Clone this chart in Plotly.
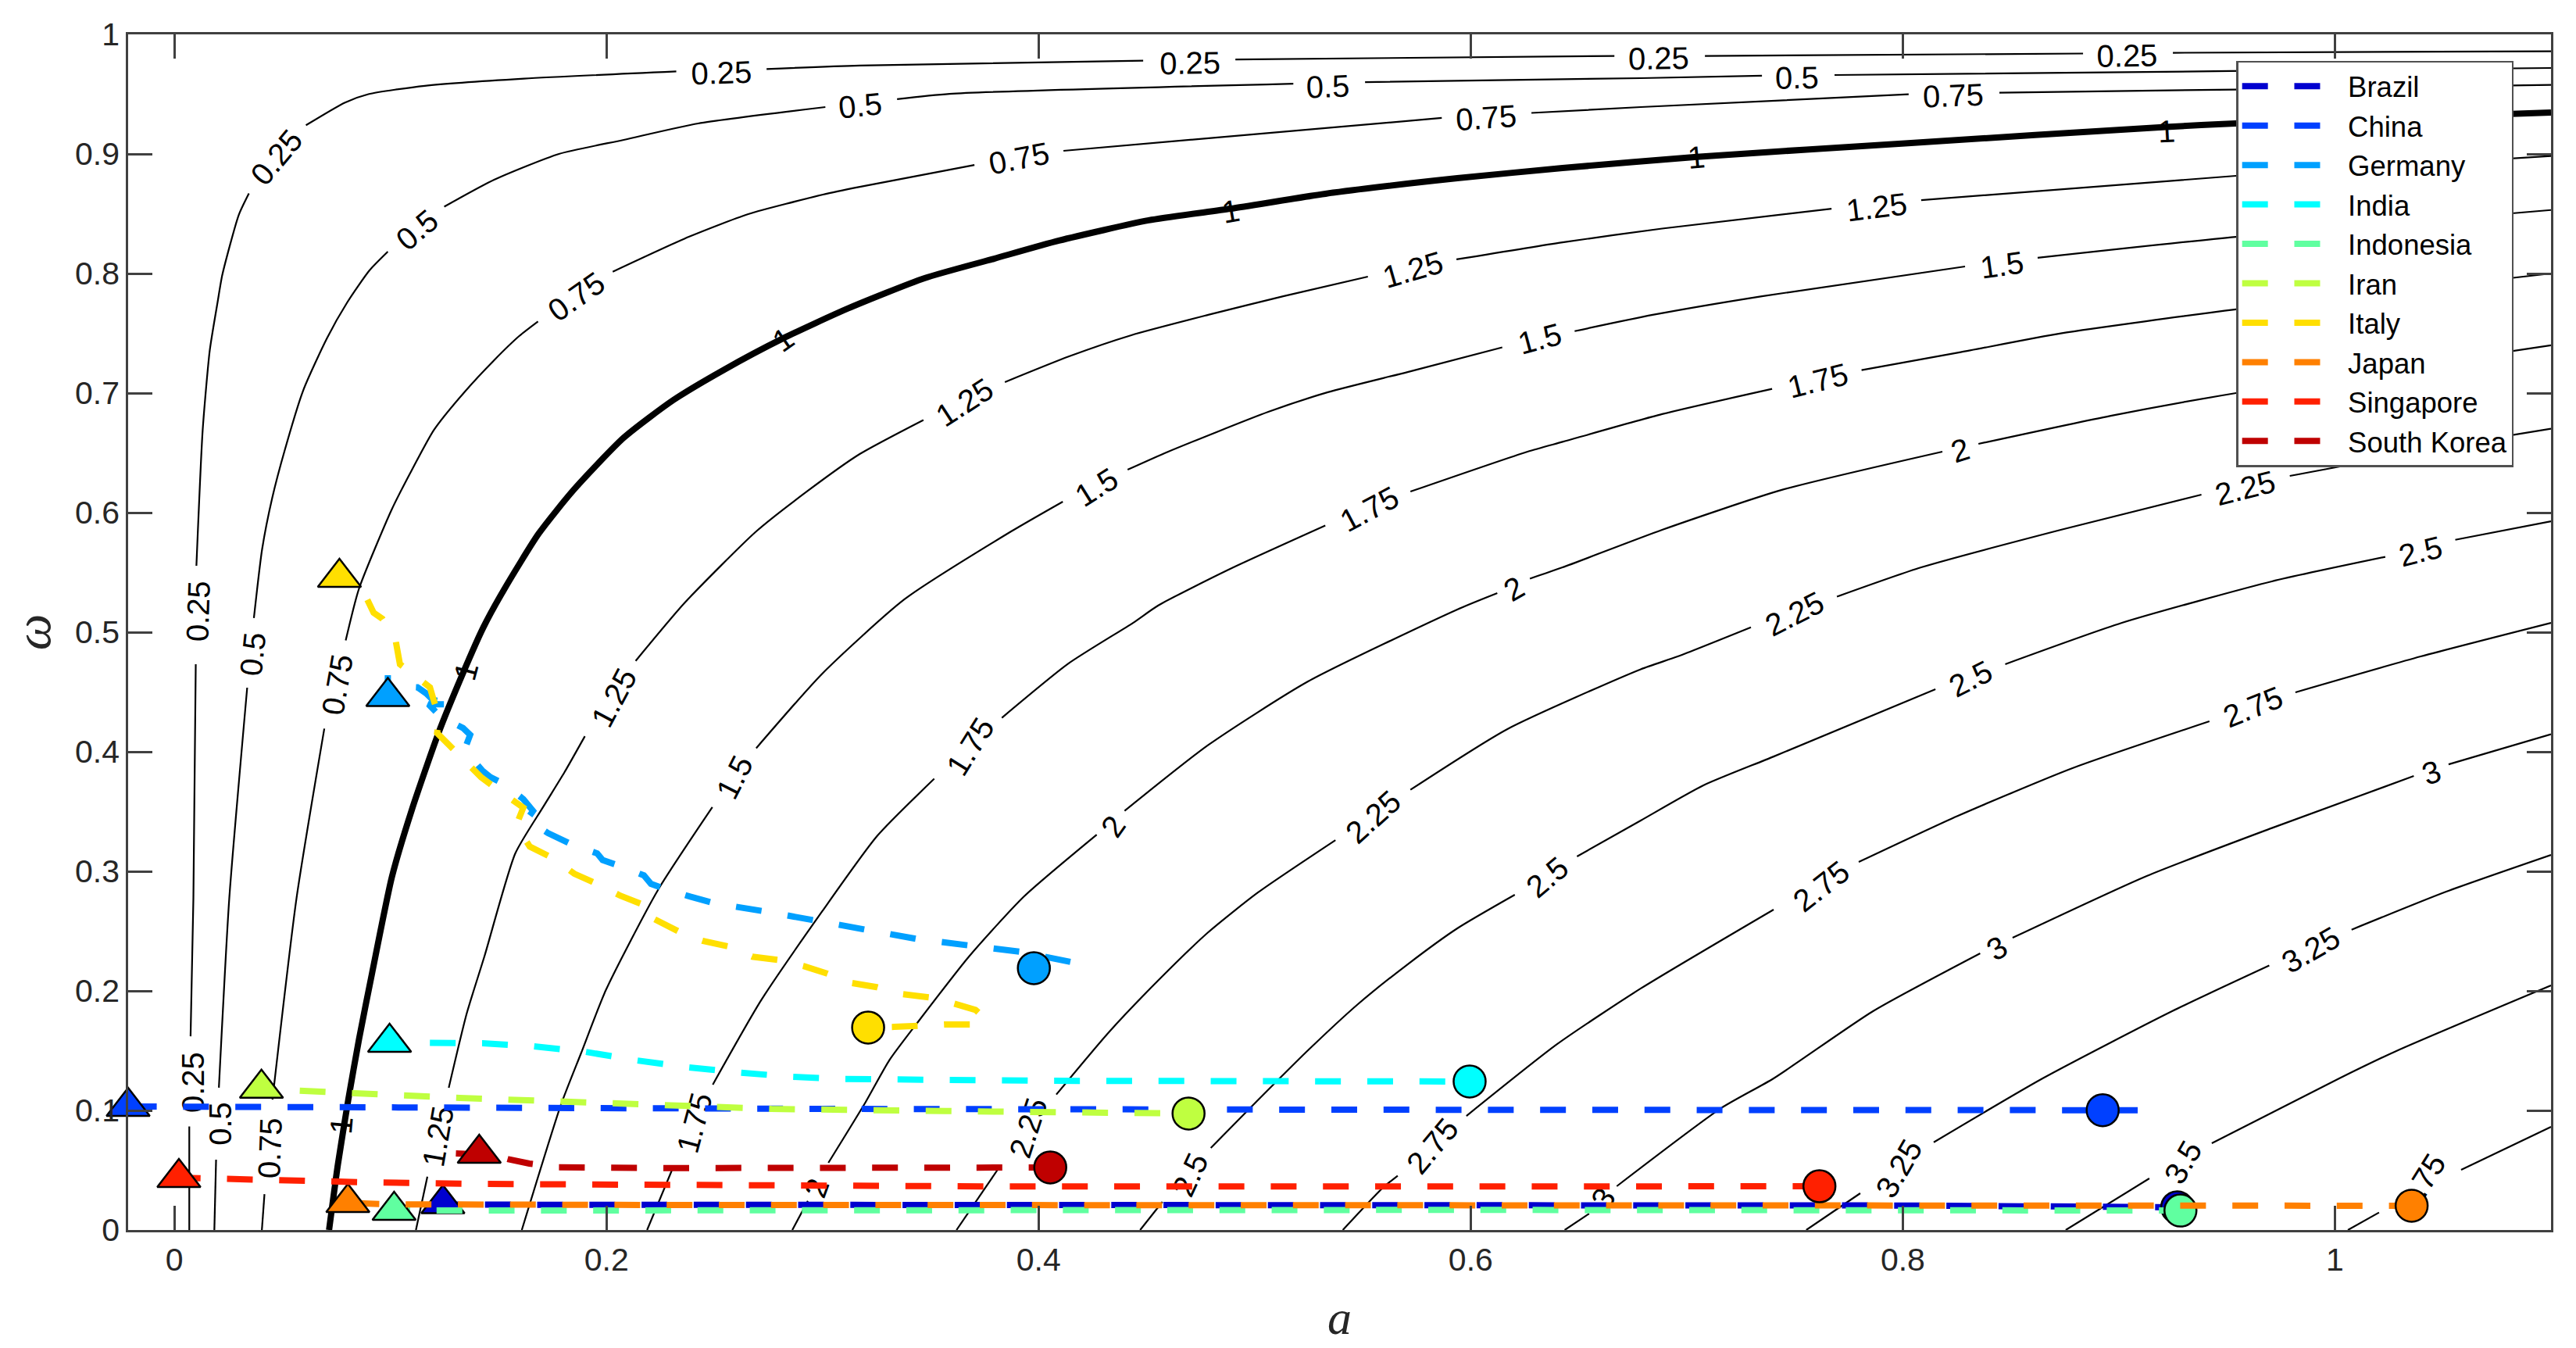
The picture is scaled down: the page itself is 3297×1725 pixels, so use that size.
# -*- coding: utf-8 -*-
import math
import plotly.graph_objects as go

# level curves, None = gap left for a label
c025_x = [0.0069,0.0069,None,0.0075,0.0088,0.0099,None,0.0102,0.0131,0.0164,0.0200,0.0222,0.0298,0.0345,None,0.0609,0.0790,0.0898,0.1159,0.1618,0.2323,None,0.2741,0.3172,0.4484,None,0.4911,0.6665,None,0.7084,0.8834,None,0.925,1.1]
c025_y = [0,0.0866,None,0.162,0.2771,0.4732,None,0.5556,0.669,0.736,0.776,0.799,0.849,0.867,None,0.924,0.943,0.950,0.957,0.963,0.969,None,0.971,0.974,0.978,None,0.979,0.982,None,0.982,0.984,None,0.9846,0.9859]
c05_x = [0.0185,0.0193,None,0.0206,0.0254,0.0337,None,0.0368,0.0406,0.0453,0.0511,0.0597,0.0706,0.0800,0.0903,0.0988,None,0.1249,0.1480,0.178,0.2080,0.2424,0.3013,None,0.3345,0.3588,0.5179,None,0.5511,0.6787,0.7348,None,0.7684,0.9517,1.1]
c05_y = [0,0.0588,None,0.1190,0.2771,0.4536,None,0.5118,0.5693,0.6124,0.6523,0.7026,0.7458,0.7758,0.8026,0.8183,None,0.8559,0.8784,0.900,0.9118,0.9255,0.9392,None,0.9458,0.9503,0.9588,None,0.9601,0.9634,0.9654,None,0.966,0.9693,0.9719]
c075_x = [0.0405,0.0417,None,0.0454,0.0565,0.0694,None,0.0793,0.0854,0.1006,0.11,0.1202,0.1342,0.1480,0.1596,0.1683,None,0.2029,0.2381,0.2656,0.3002,0.3172,0.3703,None,0.4115,0.5866,None,0.6281,0.6787,0.8027,None,0.8447,0.9538,1.1]
c075_y = [0,0.030,None,0.1091,0.2771,0.4194,None,0.4931,0.5361,0.6026,0.6359,0.6693,0.7007,0.7275,0.7477,0.7599,None,0.8015,0.8307,0.8497,0.8660,0.8725,0.8908,None,0.9026,0.9301,None,0.9343,0.9392,0.9499,None,0.9512,0.9539,0.9577]
c1_x = [0.0716,0.0757,0.0805,0.0855,0.0916,0.1007,0.1100,0.1221,0.1335,0.1430,0.1527,0.1686,0.1848,0.2080,0.2309,0.2539,0.2818,0.3118,0.3472,0.3794,0.4094,0.4510,0.4889,0.5363,0.5938,0.6425,0.7047,0.8038,0.9217,0.9538,1.1]
c1_y = [0,0.055,0.1091,0.16,0.2157,0.2954,0.3520,0.4150,0.4654,0.5040,0.536,0.5824,0.619,0.6627,0.6941,0.7190,0.7458,0.7708,0.7961,0.8124,0.8275,0.8445,0.8542,0.8676,0.8797,0.8882,0.8976,0.9092,0.9226,0.9255,0.9347]
c125_x = [0.1118,0.1171,None,0.127,0.1353,0.1436,0.1578,0.1704,0.1806,0.19,None,0.2135,0.2363,0.2693,0.2930,0.3172,0.3467,None,0.3844,0.4141,0.4429,0.4785,0.5132,0.5524,None,0.5934,0.6425,0.6886,0.767,None,0.8085,0.9542,1.1]
c125_y = [0,0.0446,None,0.119,0.181,0.2294,0.315,0.353,0.383,0.413,None,0.476,0.5248,0.5843,0.618,0.649,0.6775,None,0.7092,0.7307,0.7484,0.7654,0.781,0.7974,None,0.8118,0.8261,0.8376,0.8542,None,0.8614,0.8817,0.8983]
c15_x = [0.1608,0.1789,0.1882,0.1997,0.2236,0.249,None,0.2693,0.2999,0.3379,0.3873,0.4112,None,0.4412,0.4600,0.5063,0.5339,0.5708,0.6146,None,0.6481,0.6842,0.7348,0.8288,None,0.8624,0.9542,1.1]
c15_y = [0,0.1046,0.1477,0.2006,0.2837,0.3536,None,0.403,0.4654,0.5275,0.5843,0.6092,None,0.6359,0.651,0.6843,0.7007,0.7176,0.7382,None,0.7518,0.7654,0.781,0.8059,None,0.8131,0.8307,0.8531]
c175_x = [0.2188,0.2302,None,0.2492,0.2716,0.2999,0.3252,0.3517,None,0.3830,0.4139,0.4437,0.4554,0.4879,0.5327,None,0.5721,0.6263,0.6425,0.6886,0.7395,None,0.7809,0.8268,0.8731,0.9542,1.1]
c175_y = [0,0.0497,None,0.1216,0.1922,0.2667,0.3294,0.3774,None,0.4284,0.4739,0.5078,0.5224,0.5523,0.5892,None,0.6176,0.651,0.6592,0.6824,0.7035,None,0.7192,0.7342,0.7499,0.77,0.80]
c2_x = [0.286,0.2932,None,0.3027,0.32,0.3310,0.3448,0.3678,0.3933,0.4269,None,0.4398,0.4785,0.5247,0.5938,0.6123,None,0.6274,0.6425,0.6886,0.744,0.8183,None,0.835,0.8962,0.9542,1.1]
c2_y = [0,0.0244,None,0.0562,0.1072,0.1422,0.1755,0.2288,0.2791,0.3307,None,0.3506,0.4056,0.4588,0.5190,0.5327,None,0.5448,0.5542,0.5856,0.6190,0.651,None,0.6575,0.681,0.70,0.74]
c225_x = [0.362,0.3823,None,0.4082,0.4325,0.4554,0.4785,0.5016,0.5374,None,0.5721,0.6170,0.6787,0.6958,0.7297,None,0.7695,0.8085,0.8731,0.9382,None,0.9791,1.0042,1.0237,1.1]
c225_y = [0,0.0538,None,0.1133,0.1654,0.2088,0.249,0.2824,0.3261,None,0.3682,0.419,0.4690,0.4797,0.5041,None,0.5297,0.5542,0.5856,0.615,None,0.6307,0.6392,0.6471,0.6702]
c25_x = [0.447,0.4573,None,0.4797,0.5016,0.5247,0.5478,0.5708,0.5938,0.6204,None,0.6492,0.6787,0.7077,0.7402,0.8151,None,0.8474,0.9014,0.9708,1.0233,None,1.0557,1.1]
c25_y = [0,0.0235,None,0.0686,0.1088,0.1503,0.1889,0.2222,0.2523,0.2804,None,0.3124,0.3425,0.3719,0.396,0.4523,None,0.4732,0.5078,0.5425,0.563,None,0.5773,0.5928]
c275_x = [0.5408,0.5593,0.5662,None,0.598,0.6401,0.6787,0.7402,None,0.7796,0.8255,0.8785,0.9419,None,0.9817,1.0397,1.1]
c275_y = [0,0.0353,0.0454,None,0.0954,0.1556,0.2020,0.2680,None,0.3078,0.3464,0.3863,0.4255,None,0.4497,0.4797,0.5078]
c3_x = [0.6435,0.6548,None,0.6676,0.716,0.7402,0.7862,0.8358,None,0.8508,0.9129,0.9708,1.0365,None,1.0526,1.1]
c3_y = [0,0.0137,None,0.0366,0.102,0.1268,0.183,0.2314,None,0.2444,0.2961,0.3362,0.3797,None,0.3895,0.4146]
c325_x = [0.7553,0.7803,None,0.8143,0.8647,0.9246,0.9696,None,1.0077,1.0515,1.1]
c325_y = [0,0.0307,None,0.0734,0.1268,0.183,0.2212,None,0.2512,0.283,0.3137]
c35_x = [0.8754,0.9141,None,0.943,1.002,1.0284,1.1]
c35_y = [0,0.0431,None,0.0725,0.1268,0.1497,0.2046]
c375_x = [1.006,1.0204,None,1.0584,1.1]
c375_y = [0,0.0146,None,0.0503,0.0863]

thin_curves = [(c025_x,c025_y),(c05_x,c05_y),(c075_x,c075_y),(c125_x,c125_y),(c15_x,c15_y),(c175_x,c175_y),
               (c2_x,c2_y),(c225_x,c225_y),(c25_x,c25_y),(c275_x,c275_y),(c3_x,c3_y),(c325_x,c325_y),(c35_x,c35_y),(c375_x,c375_y)]

# contour labels
lab_text = ['0.25']*7 + ['0.5']*6 + ['0.75']*6 + ['1']*6 + ['1.25']*5 + ['1.5']*4 + ['1.75']*4 + ['2']*4 + ['2.25']*4 + ['2.5']*4 + ['2.75']*3 + ['3']*3 + ['3.25']*2 + ['3.5','3.75']
lab_x = [.0108,.0083,.0471,.2532,.4701,.687,.9038, .0211,.0361,.1122,.3174,.5339,.751, .044,.0752,.1859,.3909,.6071,.8233,
         .0771,.1348,.2817,.4889,.7044,.922, .1218,.2033,.3656,.5732,.7879, .2591,.4267,.6319,.8459, .2405,.3682,.5530,.7606,
         .2971,.4343,.6199,.8265, .395,.5547,.7498,.9584, .47,.6353,.8313,1.0396, .5821,.7621,.962, .6612,.8434,1.0446, .798,.9887, .9295, 1.04]
lab_y = [.5176,.1235,.8974,.9683,.9765,.9804,.9826, .0889,.4817,.8368,.9409,.9569,.9642, .0686,.4562,.781,.8967,.9307,.9493,
         .0876,.4675,.7451,.8525,.8976,.9193, .0784,.4454,.6925,.8036,.8559, .3788,.6216,.7458,.8075, .0897,.4046,.6034,.7108,
         .0353,.3379,.5367,.6525, .0856,.3458,.5157,.6209, .0464,.2954,.4614,.568, .0706,.2878,.4379, .0268,.2361,.383, .0516,.2346, .0569, .0399]
lab_ang = [-88,-90,-50,-2,-1,-1,-1, -90,-84,-40,-6,-2,-1, -88,-80,-35,-11,-4,-2,
           -85,-75,-35,-10,-5,-3, -80,-62,-33,-16,-7, -63,-32,-15,-8, -75,-58,-28,-14,
           -70,-55,-30,-17, -72,-42,-27,-14, -65,-40,-27,-14, -50,-38,-22, -55,-32,-20, -60,-30, -60,-58]

# countries
names = ['Brazil','China','Germany','India','Indonesia','Iran','Italy','Japan','Singapore','South Korea']
colors = ['#0000CF','#0040FF','#00A0FF','#00FFFF','#60FFA0','#BFFF40','#FFDF00','#FF8000','#FF2000','#BF0000']

tri_x = [.1243,-.0214,.0988,.0996,.1017,.0403,.0764,.0803,.0021,.1411]
tri_y = [.0219,.1033,.4461,.1569,.0163,.1185,.5458,.0229,.0438,.064]
cir_x = [.927,.8925,.3978,.5995,.9285,.4694,.3211,1.0355,.7614,.4054]
cir_y = [.019,.1002,.219,.1242,.0163,.0974,.1693,.0203,.0366,.0523]

brazil_x = [.1196,.2,.4,.6,.8,.927]
brazil_y = [.0212,.0212,.0205,.0205,.0205,.019]
china_x = [-.0201,.1,.3,.6,.8925,.9087]
china_y = [.1033,.1022,.1013,.1005,.1002,.1002]
germany_x = [.0988,.0988,.1069,.1125,.1166,.1196,.1292,.1176,.1234,.1336,.1369,.1343,.1424,.1462,.1526,.1615,.1660,.1632,.1729,.1843,.1957,.1982,.2064,.2173,.2206,.2269,.2388,.2503,.2739,.2977,.3205,.3441,.3682,.3911,.4159,.4101,.3978]
germany_y = [.4640,.4461,.4545,.4539,.4488,.4434,.4397,.4397,.429,.4199,.4142,.4015,.3845,.3788,.3731,.3604,.3505,.3434,.332,.3221,.315,.3094,.3043,.2966,.2895,.2853,.2788,.2731,.2663,.2584,.2499,.2433,.2379,.2328,.2238,.2187,.219]
india_x = [.0941,.1183,.1426,.1665,.1903,.2142,.2381,.262,.2861,.3103,.3338,.4032,.5995]
india_y = [.1569,.1565,.1562,.1536,.149,.1418,.136,.1316,.1281,.1263,.1257,.1248,.1242]
indonesia_x = [.0972,.3,.6,.9285]
indonesia_y = [.0163,.0168,.0168,.0163]
iran_x = [.0339,.0482,.0834,.132,.1798,.2286,.2763,.3569,.4446,.4694]
iran_y = [.1185,.117,.1144,.1105,.1072,.1039,.1013,.0995,.098,.0974]
italy_x = [.0764,.0764,.0892,.0922,.0963,.1023,.1044,.1140,.1183,.1201,.1226,.1216,.1247,.1336,.1419,.1513,.1615,.1582,.1645,.1754,.1851,.1962,.2064,.2165,.2155,.2224,.2343,.2363,.2444,.2566,.2675,.28,.2914,.3023,.3129,.3251,.3365,.3492,.3601,.3708,.3753,.3708,.3571,.3454,.3332,.3211]
italy_y = [.5595,.5458,.5276,.5163,.5112,.4942,.4732,.4596,.4539,.4426,.429,.4157,.41,.3938,.3788,.3661,.3533,.3383,.3207,.3108,.2980,.289,.2796,.2725,.2663,.2598,.2498,.247,.2419,.2371,.2286,.2258,.2207,.2144,.2068,.2031,.1974,.1946,.1898,.1841,.1767,.1719,.1719,.1705,.1699,.1693]
japan_x = [.0829,.1,.2,.6,1.0355]
japan_y = [.0225,.0215,.021,.0205,.0203]
singapore_x = [.0002,.0418,.0887,.1364,.2308,.3841,.6,.7614]
singapore_y = [.0438,.0418,.0399,.0386,.0373,.0364,.0364,.0366]
korea_x = [.1303,.1478,.155,.1643,.1769,.2059,.2308,.4054]
korea_y = [.064,.0627,.059,.0556,.0525,.0516,.0518,.0523]

series_x = [brazil_x,china_x,germany_x,india_x,indonesia_x,iran_x,italy_x,japan_x,singapore_x,korea_x]
series_y = [brazil_y,china_y,germany_y,india_y,indonesia_y,iran_y,italy_y,japan_y,singapore_y,korea_y]

fig = go.Figure()

for cx, cy in thin_curves:
    fig.add_trace(go.Scatter(x=cx, y=cy, mode='lines', line=dict(color='black', width=2.2, shape='spline', smoothing=0.6),
                             showlegend=False, hoverinfo='skip'))
fig.add_trace(go.Scatter(x=c1_x, y=c1_y, mode='lines', line=dict(color='black', width=8, shape='spline', smoothing=0.6),
                         showlegend=False, hoverinfo='skip'))

for i in range(len(names)):
    fig.add_trace(go.Scatter(x=series_x[i], y=series_y[i], mode='lines', name='\u00a0\u00a0\u00a0' + names[i],
                             line=dict(color=colors[i], width=8, dash='33px,33.8px')))
    fig.add_trace(go.Scatter(x=[tri_x[i]], y=[tri_y[i]], mode='markers', showlegend=False, cliponaxis=False,
                             marker=dict(symbol='triangle-up', size=48, color=colors[i], line=dict(color='black', width=2.5))))
    fig.add_trace(go.Scatter(x=[cir_x[i]], y=[cir_y[i]], mode='markers', showlegend=False, cliponaxis=False,
                             marker=dict(symbol='circle', size=41, color=colors[i], line=dict(color='black', width=2.5))))

# labels as zero length shapes so they stay under the dashed lines and markers
# the shape label sits a bit low, so nudge it along the text's own up direction
for i in range(len(lab_text)):
    a = math.radians(lab_ang[i])
    lx = lab_x[i] + 3.5 * math.sin(a) / 2766
    ly = lab_y[i] + 3.5 * math.cos(a) / 1530
    fig.add_shape(type='line', x0=lx, x1=lx, y0=ly, y1=ly, xref='x', yref='y', layer='below',
                  line=dict(width=0),
                  label=dict(text=lab_text[i], textangle=lab_ang[i], xanchor='center', yanchor='middle', padding=0,
                             font=dict(family='Liberation Sans', size=40, color='black')))

axis_style = dict(showgrid=False, zeroline=False, showline=True, linecolor='#404040', linewidth=2.5,
                  mirror='ticks', ticks='inside', ticklen=31, tickwidth=2.5, tickcolor='#404040',
                  tickfont=dict(family='Liberation Sans', size=41, color='#262626'))

fig.update_xaxes(range=[-0.0214, 1.1], tickvals=[0, .2, .4, .6, .8, 1], ticktext=['0', '0.2', '0.4', '0.6', '0.8', '1'],
                 title=dict(text='<i>a</i>', font=dict(family='Liberation Serif', size=62, color='#262626'), standoff=30),
                 **axis_style)
fig.update_yaxes(range=[0, 1], tickvals=[i / 10 for i in range(11)],
                 ticktext=['0', '0.1', '0.2', '0.3', '0.4', '0.5', '0.6', '0.7', '0.8', '0.9', '1'],
                 title=dict(text='<i>ω</i>', font=dict(family='Liberation Serif', size=66, color='#262626'), standoff=10),
                 **axis_style)

fig.update_layout(width=3297, height=1725, autosize=False, plot_bgcolor='white', paper_bgcolor='white',
                  margin=dict(l=163.5, r=32, t=43.6, b=151),
                  legend=dict(x=0.8701, y=0.9781, xanchor='left', yanchor='top', bgcolor='white',
                              bordercolor='#505050', borderwidth=2.5, itemwidth=100, entrywidth=262, entrywidthmode='pixels',
                              font=dict(family='Liberation Sans', size=36.5, color='black')))

fig.write_html("out.html", config=dict(displayModeBar=False), post_script="document.body.style.margin='0';")
